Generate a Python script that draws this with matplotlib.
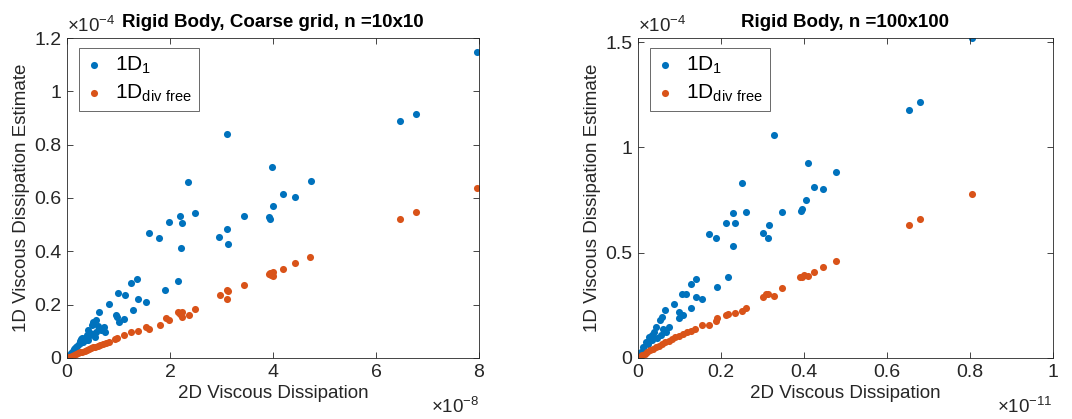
import matplotlib
matplotlib.use("Agg")
import matplotlib.pyplot as plt
import numpy as np
from matplotlib.ticker import FuncFormatter, MultipleLocator

plt.rcParams['font.family'] = ['Liberation Sans', 'DejaVu Sans']
plt.rcParams['mathtext.default'] = 'regular'

BLUE = '#0072BD'
ORANGE = '#D95319'
AX = '#262626'

# left panel: x in 1e-8, y in 1e-4
coarse_x_1d1 = [7.96, 6.47, 6.78, 3.11, 2.34, 3.99, 4.19, 4.43, 4.73, 4.00, 2.49, 3.43, 3.92, 3.94,
                2.20, 2.23, 1.99, 1.60, 1.79, 2.96, 3.11, 3.13, 2.22, 1.35, 1.24, 2.16, 1.90, 1.00,
                1.13, 1.38, 1.53, 0.81, 1.28, 0.62, 0.96, 0.98, 1.11, 1.01, 0.57, 0.51, 0.48, 0.72,
                0.66, 0.41, 0.57, 0.73, 0.45, 0.54, 0.30, 0.36, 0.26, 0.23, 0.17, 0.11, 0.05, 0.38,
                0.32, 0.20, 0.14, 0.08, 0.03, 0.44, 0.60, 0.28, 0.02, 0.35, 0.25, 0.15, 0.40, 0.50]
coarse_y_1d1 = [1.149, 0.890, 0.915, 0.839, 0.661, 0.716, 0.616, 0.603, 0.665, 0.569, 0.542, 0.531, 0.529, 0.522,
                0.532, 0.505, 0.510, 0.469, 0.451, 0.455, 0.484, 0.429, 0.412, 0.295, 0.280, 0.289, 0.255, 0.244,
                0.236, 0.221, 0.210, 0.203, 0.180, 0.173, 0.163, 0.152, 0.146, 0.135, 0.143, 0.136, 0.125, 0.116,
                0.106, 0.104, 0.096, 0.097, 0.085, 0.078, 0.076, 0.066, 0.062, 0.052, 0.040, 0.027, 0.013, 0.085,
                0.060, 0.045, 0.032, 0.018, 0.007, 0.095, 0.120, 0.070, 0.004, 0.075, 0.055, 0.036, 0.068, 0.090]
coarse_x_div = [7.96, 6.78, 6.47, 4.72, 4.43, 4.20, 4.00, 3.95, 3.92, 4.01, 3.97, 3.43, 3.13, 3.11,
                2.97, 3.11, 2.49, 2.36, 2.20, 2.15, 2.23, 2.24, 1.99, 1.93, 1.80, 1.59, 1.53, 1.38,
                1.25, 1.11, 0.98, 0.93, 0.82, 0.76, 0.70, 0.64, 0.60, 0.55, 0.50, 0.46, 0.42, 0.38,
                0.34, 0.30, 0.26, 0.22, 0.18, 0.14, 0.10, 0.06, 0.03, 0.01]
coarse_y_div = [0.639, 0.546, 0.521, 0.380, 0.357, 0.335, 0.322, 0.318, 0.315, 0.309, 0.312, 0.274, 0.251, 0.255,
                0.237, 0.220, 0.185, 0.162, 0.165, 0.174, 0.172, 0.152, 0.144, 0.149, 0.124, 0.107, 0.116, 0.101,
                0.097, 0.085, 0.074, 0.070, 0.060, 0.058, 0.054, 0.050, 0.046, 0.043, 0.040, 0.036, 0.034, 0.030,
                0.027, 0.024, 0.021, 0.018, 0.014, 0.011, 0.008, 0.005, 0.002, 0.001]

# right panel: x in 1e-11, y in 1e-4
fine_x_1d1 = [0.804, 0.652, 0.680, 0.329, 0.251, 0.410, 0.424, 0.445, 0.477, 0.404, 0.261, 0.347, 0.392, 0.395,
              0.230, 0.212, 0.235, 0.302, 0.316, 0.314, 0.171, 0.189, 0.228, 0.216, 0.141, 0.129, 0.191, 0.105,
              0.116, 0.141, 0.154, 0.086, 0.128, 0.066, 0.100, 0.108, 0.098, 0.058, 0.052, 0.076, 0.044, 0.039,
              0.067, 0.055, 0.047, 0.027, 0.019, 0.011, 0.003, 0.033, 0.024, 0.015, 0.007, 0.061, 0.035]
fine_y_1d1 = [1.521, 1.180, 1.216, 1.059, 0.830, 0.926, 0.811, 0.801, 0.882, 0.751, 0.694, 0.694, 0.700, 0.706,
              0.691, 0.642, 0.642, 0.596, 0.634, 0.569, 0.588, 0.569, 0.531, 0.386, 0.377, 0.353, 0.339, 0.306,
              0.302, 0.289, 0.281, 0.257, 0.237, 0.226, 0.219, 0.203, 0.188, 0.196, 0.180, 0.148, 0.148, 0.125,
              0.125, 0.110, 0.093, 0.101, 0.077, 0.054, 0.022, 0.085, 0.065, 0.040, 0.030, 0.140, 0.110]
fine_x_div = [0.804, 0.679, 0.652, 0.478, 0.445, 0.424, 0.409, 0.395, 0.390, 0.400, 0.347, 0.328, 0.314, 0.309,
              0.302, 0.261, 0.251, 0.233, 0.218, 0.212, 0.190, 0.188, 0.172, 0.154, 0.138, 0.128, 0.118, 0.108,
              0.098, 0.090, 0.082, 0.074, 0.066, 0.058, 0.050, 0.043, 0.036, 0.029, 0.022, 0.016, 0.010, 0.005,
              0.002]
fine_y_div = [0.779, 0.662, 0.634, 0.462, 0.434, 0.407, 0.390, 0.386, 0.383, 0.392, 0.334, 0.293, 0.304, 0.302,
              0.292, 0.237, 0.223, 0.216, 0.210, 0.204, 0.190, 0.175, 0.155, 0.155, 0.137, 0.128, 0.122, 0.114,
              0.106, 0.098, 0.090, 0.083, 0.075, 0.067, 0.059, 0.051, 0.043, 0.036, 0.028, 0.020, 0.013, 0.007,
              0.002]

panels = [
    dict(title='Rigid Body, Coarse grid, n =10x10', xs=1e-8, ys=1e-4, xexp='-8', yexp='-4',
         b=(coarse_x_1d1, coarse_y_1d1), o=(coarse_x_div, coarse_y_div),
         xlim=8, ylim=1.2, xstep=2, ystep=0.2, pos=[0.0625, 0.1456, 0.3843, 0.7637]),
    dict(title='Rigid Body, n =100x100', xs=1e-11, ys=1e-4, xexp='-11', yexp='-4',
         b=(fine_x_1d1, fine_y_1d1), o=(fine_x_div, fine_y_div),
         xlim=1, ylim=1.52, xstep=0.2, ystep=0.5, pos=[0.5951, 0.1456, 0.3871, 0.7637]),
]

fig = plt.figure(figsize=(10.72, 4.19), dpi=100)

for p in panels:
    ax = fig.add_axes(p['pos'])
    xs, ys = p['xs'], p['ys']
    ax.scatter(np.array(p['b'][0]) * xs, np.array(p['b'][1]) * ys, s=26, color=BLUE,
               linewidths=0, label='1D$_1$')
    ax.scatter(np.array(p['o'][0]) * xs, np.array(p['o'][1]) * ys, s=26, color=ORANGE,
               linewidths=0, label='1D$_{div\\ free}$')
    ax.set_xlim(0, p['xlim'] * xs)
    ax.set_ylim(0, p['ylim'] * ys)
    ax.xaxis.set_major_locator(MultipleLocator(p['xstep'] * xs))
    ax.yaxis.set_major_locator(MultipleLocator(p['ystep'] * ys))
    ax.xaxis.set_major_formatter(FuncFormatter(lambda v, pos, s=xs: f'{round(v / s, 6):g}'))
    ax.yaxis.set_major_formatter(FuncFormatter(lambda v, pos, s=ys: f'{round(v / s, 6):g}'))
    ax.tick_params(direction='in', length=4, width=0.6, colors=AX, labelsize=14,
                   top=True, right=True, pad=4)
    for sp in ax.spines.values():
        sp.set_color(AX)
        sp.set_linewidth(0.6)
    ax.set_xlabel('2D Viscous Dissipation', fontsize=13.5, color=AX, labelpad=3)
    ax.set_ylabel('1D Viscous Dissipation Estimate', fontsize=13.5, color=AX, labelpad=3)
    ax.set_title(p['title'], fontsize=13.5, fontweight='bold', color='black', pad=8)
    ax.text(0.0, 1.005, r'$\times10^{' + p['yexp'] + '}$', transform=ax.transAxes,
            ha='left', va='bottom', fontsize=13.5, color=AX)
    ax.text(1.0, -0.172, r'$\times10^{' + p['xexp'] + '}$', transform=ax.transAxes,
            ha='right', va='baseline', fontsize=13.5, color=AX)
    leg = ax.legend(loc='upper left', bbox_to_anchor=(0.028, 0.97), fontsize=15,
                    frameon=True, fancybox=False, handlelength=0.8, handletextpad=0.6,
                    borderpad=0.35, labelspacing=0.3, borderaxespad=0)
    leg.get_frame().set_edgecolor(AX)
    leg.get_frame().set_linewidth(0.6)

fig.savefig('out.png', dpi=100)
